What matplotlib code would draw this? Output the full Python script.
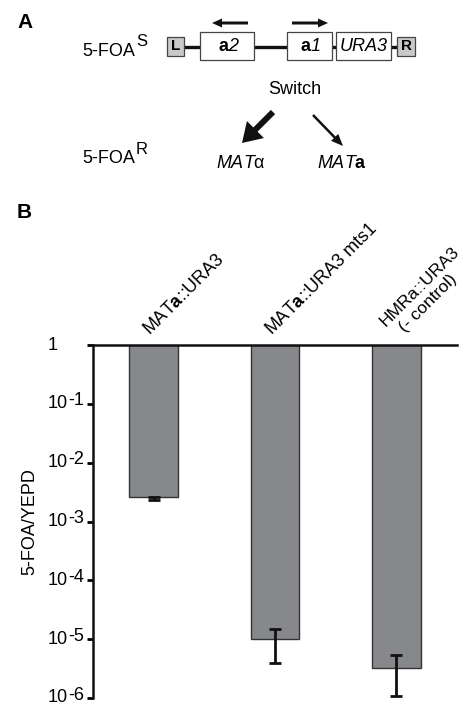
import numpy as np
import matplotlib
matplotlib.use('Agg')
import matplotlib.pyplot as plt
from matplotlib.patches import Rectangle, FancyArrow

plt.rcParams['font.family'] = ['Liberation Sans', 'DejaVu Sans']
plt.rcParams['mathtext.fontset'] = 'custom'
plt.rcParams['mathtext.rm'] = 'Liberation Sans'
plt.rcParams['mathtext.it'] = 'Liberation Sans:italic'
plt.rcParams['mathtext.bf'] = 'Liberation Sans:bold'

# Data (panel B)
strains = [r'MAT$\mathbf{a}$::URA3', r'MAT$\mathbf{a}$::URA3 mts1', 'HMRa::URA3\n(- control)']
ratio = [2.6e-3, 1.0e-5, 3.2e-6]
err_low = [0.25e-3, 0.6e-5, 2.1e-6]
err_high = [0.0, 0.5e-5, 2.1e-6]
yticks = [1e-6, 1e-5, 1e-4, 1e-3, 1e-2, 1e-1, 1]
ytick_exp = ['-6', '-5', '-4', '-3', '-2', '-1', '']

FS = 13

fig = plt.figure(figsize=(4.65, 7.05), dpi=100)

# Panel A: schematic drawn in pixel coordinates
dax = fig.add_axes([0, 0, 1, 1])
dax.set_xlim(0, 465)
dax.set_ylim(705, 0)
dax.axis('off')

dax.text(17, 23, 'A', fontsize=15, fontweight='bold', va='center', ha='left')
dax.text(17, 212, 'B', fontsize=15, fontweight='bold', va='center', ha='left')

# backbone line
dax.plot([184, 397], [47, 47], color='#111111', lw=2.4, solid_capstyle='butt', zorder=1)

# boxes
for x0, x1 in [(200, 254), (287, 332), (336, 391)]:
    dax.add_patch(Rectangle((x0, 32), x1 - x0, 28, facecolor='white', edgecolor='#444444', lw=0.9, zorder=2))
for cx, num in [(227, '2'), (309.5, '1')]:
    dax.text(cx + 1, 46.5, 'a', fontsize=FS, fontweight='bold', ha='right', va='center', zorder=3)
    dax.text(cx + 1, 46.5, num, fontsize=FS, style='italic', ha='left', va='center', zorder=3)
dax.text(363.5, 46.5, 'URA3', fontsize=FS, style='italic', ha='center', va='center', zorder=3)
for x0, x1, lab in [(167, 184, 'L'), (397, 415, 'R')]:
    dax.add_patch(Rectangle((x0, 37), x1 - x0, 19, facecolor='#c9c9c9', edgecolor='#444444', lw=0.9, zorder=2))
    dax.text((x0 + x1) / 2, 46.5, lab, fontsize=11, fontweight='bold', ha='center', va='center', zorder=3)

# transcription arrows
dax.add_patch(FancyArrow(248, 23, -36, 0, width=3, head_width=9, head_length=10,
                         length_includes_head=True, color='#111111', lw=0))
dax.add_patch(FancyArrow(292, 23, 36, 0, width=3, head_width=9, head_length=10,
                         length_includes_head=True, color='#111111', lw=0))

dax.text(82, 51.5, '5-FOA', fontsize=FS, ha='left', va='center')
dax.text(136, 42, 'S', fontsize=12, ha='left', va='center')
dax.text(82, 158.5, '5-FOA', fontsize=FS, ha='left', va='center')
dax.text(136, 149, 'R', fontsize=12, ha='left', va='center')
dax.text(295, 90, 'Switch', fontsize=FS, ha='center', va='center')

dax.add_patch(FancyArrow(273, 112, -31, 31, width=6, head_width=24, head_length=19,
                         length_includes_head=True, color='#111111', lw=0))
dax.add_patch(FancyArrow(313, 115, 30, 31, width=2.5, head_width=10, head_length=12,
                         length_includes_head=True, color='#111111', lw=0))

dax.text(241, 164, r'$\mathit{MAT}\mathrm{α}$', fontsize=FS, ha='center', va='center')
dax.text(342, 164, r'$\mathit{MAT}\mathbf{a}$', fontsize=FS, ha='center', va='center')

# Panel B: bar chart
ax = fig.add_axes([93 / 465, 1 - 698 / 705, 364 / 465, (698 - 345) / 705])
ax.patch.set_alpha(0)
ax.set_yscale('log')
ax.set_ylim(1e-6, 1)
ax.set_xlim(-0.5, 2.5)

x = np.arange(len(strains))
vals = np.array(ratio)
ax.bar(x, 1 - vals, bottom=vals, width=0.4, color='#87888b', edgecolor='#333333', lw=1, zorder=2)
ax.errorbar(x, vals, yerr=[err_low, err_high], fmt='none', ecolor='#111111',
            elinewidth=2, capsize=4, capthick=2, zorder=3)

for side in ['right', 'bottom']:
    ax.spines[side].set_visible(False)
for side in ['left', 'top']:
    ax.spines[side].set_linewidth(1.8)
    ax.spines[side].set_color('#111111')

ax.set_yticks(yticks)
ax.set_yticklabels([])
ax.minorticks_off()
ax.tick_params(axis='y', direction='out', length=4, width=2)
ax.set_xticks([])

# tick labels: "10" with raised full-size exponent, left aligned
for v, e in zip(yticks, ytick_exp):
    base = '10' if e else '1'
    ax.annotate(base, xy=(0, v), xycoords=('axes fraction', 'data'), xytext=(-45, 0),
                textcoords='offset pixels', ha='left', va='center', fontsize=FS, annotation_clip=False)
    if e:
        ax.annotate(e, xy=(0, v), xycoords=('axes fraction', 'data'), xytext=(-25, 3),
                    textcoords='offset pixels', ha='left', va='center', fontsize=FS, annotation_clip=False)

ax.set_ylabel('5-FOA/YEPD', fontsize=FS)
ax.yaxis.set_label_coords(-0.15, 0.5)

# rotated strain labels, one line at a time
label_dx = [-0.03, -0.03, -0.09]
label_y = [1.45, 1.45, 2.0]
label_fs = [FS, FS, 12.5]
for xi, lab, dx, ly, fs in zip(x, strains, label_dx, label_y, label_fs):
    for k, line in enumerate(lab.split('\n')):
        ax.annotate(line, xy=(xi + dx, ly), xycoords='data', xytext=(19 * k, -6 * k),
                    textcoords='offset pixels', rotation=45, rotation_mode='anchor',
                    ha='left', va='baseline', fontsize=fs, annotation_clip=False)

fig.savefig('out.png', dpi=100)
